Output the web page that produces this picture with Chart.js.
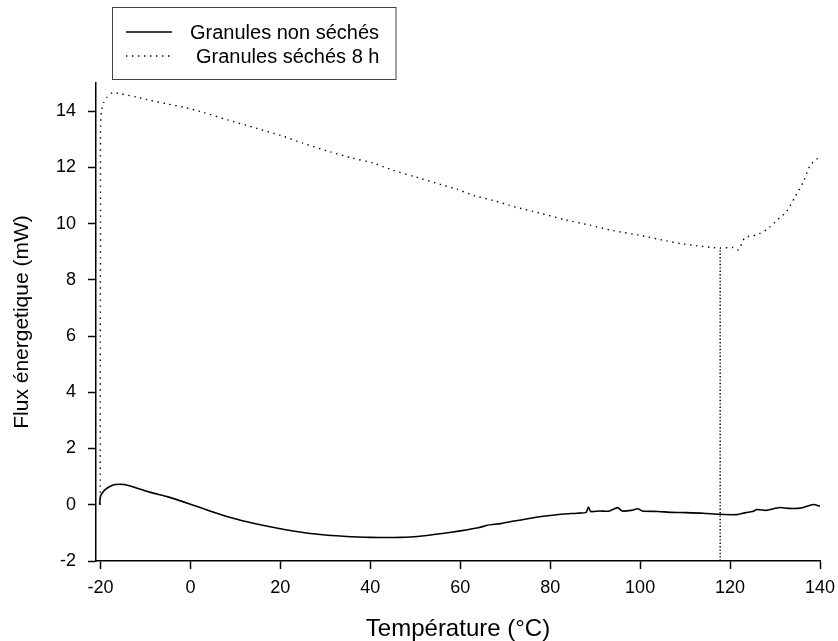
<!DOCTYPE html>
<html>
<head>
<meta charset="utf-8">
<script src="https://cdn.jsdelivr.net/npm/chart.js@4/dist/chart.umd.min.js"></script>
<style>
  html, body { margin: 0; padding: 0; background: #fff; }
  #wrap { width: 838px; height: 641px; }
</style>
</head>
<body>
<div id="wrap"><canvas id="dsc" width="838" height="641"></canvas></div>
<script>
// Granules non séchés (solid)
const tempNonSeches = [-20.2, -20.0, -19.6, -18.9, -17.8, -16.7, -14.8, -12, -8.9, -5, 0, 4, 8.9, 14, 20, 24, 28.9, 34, 40, 46.7,
  52, 56, 60, 64, 66, 68.9, 72, 75, 78, 80, 83, 86, 88, 88.5, 89, 91, 93, 95, 96, 98, 99.5, 100.5, 104, 107, 110, 114,
  117.8, 121.5, 123.5, 125, 126, 128, 131, 133, 135.6, 138.5, 140];
const fluxNonSeches = [0.0, 0.3, 0.42, 0.55, 0.66, 0.72, 0.72, 0.6, 0.44, 0.28, 0.02, -0.2, -0.45, -0.66, -0.85, -0.96, -1.06, -1.12, -1.16, -1.16,
  -1.1, -1.02, -0.93, -0.82, -0.73, -0.67, -0.58, -0.5, -0.42, -0.38, -0.33, -0.3, -0.27, -0.08, -0.24, -0.22, -0.23, -0.1, -0.22, -0.2, -0.14, -0.22, -0.24, -0.27, -0.28, -0.3,
  -0.34, -0.35, -0.28, -0.24, -0.17, -0.2, -0.1, -0.13, -0.12, 0.01, -0.05];

// Granules séchés 8 h (dotted)
const tempSeches = [-20.05, -20.05, -20.0, -20.0, -19.8, -19.3, -18.5, -17.4, -15.6, -12, -8.9, -5, -1.5, 3, 8.2, 14, 20, 25, 31.1, 36,
  40.7, 45, 49.6, 56.3, 59.3, 63, 67.4, 72, 77.8, 83, 88.9, 94, 100, 106, 108.9, 112.6, 116, 117.8, 120.7, 121.9,
  123.3, 125.9, 128.1, 130.4, 132.6, 134.4, 136.3, 137.8, 140];
const fluxSeches = [0.0, 5, 10, 13.3, 14.0, 14.3, 14.5, 14.65, 14.62, 14.5, 14.38, 14.25, 14.14, 13.95, 13.69, 13.42, 13.14, 12.86, 12.55, 12.33,
  12.15, 11.9, 11.68, 11.36, 11.22, 11.0, 10.82, 10.6, 10.37, 10.15, 9.94, 9.75, 9.58, 9.38, 9.29, 9.21, 9.15, 9.13, 9.15, 9.07,
  9.5, 9.6, 9.78, 10.11, 10.44, 10.94, 11.48, 12.07, 12.39];

// vertical marker at the minimum
const markerTemp = [117.8, 117.8];
const markerFlux = [-2, 9.13];

const xTicks = [-20, 0, 20, 40, 60, 80, 100, 120, 140];
const yTicks = [-2, 0, 2, 4, 6, 8, 10, 12, 14];

const toPoints = (xs, ys) => xs.map((x, i) => ({ x: x, y: ys[i] }));

const FONT = 'Liberation Sans, Arial, sans-serif';

// boxed legend in the top-left corner
const boxLegend = {
  id: 'boxLegend',
  afterDraw(chart) {
    const ctx = chart.ctx;
    ctx.save();
    ctx.strokeStyle = '#444';
    ctx.lineWidth = 1;
    ctx.strokeRect(112.5, 7.5, 283.5, 72);
    const rows = chart.data.datasets.filter(d => d.label);
    rows.forEach((ds, i) => {
      const y = 32 + i * 24;
      ctx.beginPath();
      ctx.strokeStyle = '#000';
      ctx.lineWidth = ds.borderWidth;
      ctx.setLineDash(ds.borderDash || []);
      ctx.moveTo(126, y);
      ctx.lineTo(172, y);
      ctx.stroke();
      ctx.setLineDash([]);
      ctx.fillStyle = '#000';
      ctx.font = '20px ' + FONT;
      ctx.textBaseline = 'middle';
      ctx.fillText(ds.label, i === 0 ? 190 : 196, y + 1);
    });
    ctx.restore();
  }
};

new Chart(document.getElementById('dsc').getContext('2d'), {
  type: 'line',
  data: {
    datasets: [
      {
        label: 'Granules non séchés',
        data: toPoints(tempNonSeches, fluxNonSeches),
        borderColor: '#000',
        borderWidth: 1.6,
        pointRadius: 0,
        fill: false,
        tension: 0.2
      },
      {
        label: 'Granules séchés 8 h',
        data: toPoints(tempSeches, fluxSeches),
        borderColor: '#000',
        borderWidth: 1.4,
        borderDash: [1.4, 4.6],
        pointRadius: 0,
        fill: false,
        tension: 0.2
      },
      {
        label: '',
        data: toPoints(markerTemp, markerFlux),
        borderColor: '#000',
        borderWidth: 1.4,
        borderDash: [1.4, 2],
        pointRadius: 0,
        fill: false
      }
    ]
  },
  options: {
    responsive: false,
    animation: false,
    devicePixelRatio: 1,
    layout: { padding: { top: 83, right: 18, left: 0, bottom: 0 } },
    plugins: {
      legend: { display: false },
      tooltip: { enabled: false }
    },
    scales: {
      x: {
        type: 'linear',
        min: -21,
        max: 140,
        afterBuildTicks: s => { s.ticks = xTicks.map(v => ({ value: v })); },
        afterFit: s => { s.height = 80; s.paddingLeft = 0; s.paddingRight = 0; },
        grid: { drawOnChartArea: false, drawTicks: true, tickLength: 8, tickColor: '#000', tickWidth: 1.5 },
        border: { display: true, color: '#000', width: 1.5 },
        ticks: { color: '#000', font: { family: FONT, size: 18 }, padding: 8, maxRotation: 0 },
        title: { display: true, text: 'Température (°C)', color: '#000', font: { family: FONT, size: 24, lineHeight: 1 }, padding: { top: 0, bottom: 0 } }
      },
      y: {
        min: -2,
        max: 15,
        afterBuildTicks: s => { s.ticks = yTicks.map(v => ({ value: v })); },
        afterFit: s => { s.width = 96; s.paddingTop = 0; s.paddingBottom = 0; },
        grid: { drawOnChartArea: false, drawTicks: true, tickLength: 8, tickColor: '#000', tickWidth: 1.5 },
        border: { display: true, color: '#000', width: 1.5 },
        ticks: { color: '#000', font: { family: FONT, size: 18 }, padding: 12 },
        title: { display: true, text: 'Flux énergetique (mW)', color: '#000', font: { family: FONT, size: 21 }, padding: { top: 10, bottom: 0 } }
      }
    }
  },
  plugins: [boxLegend]
});
</script>
</body>
</html>
